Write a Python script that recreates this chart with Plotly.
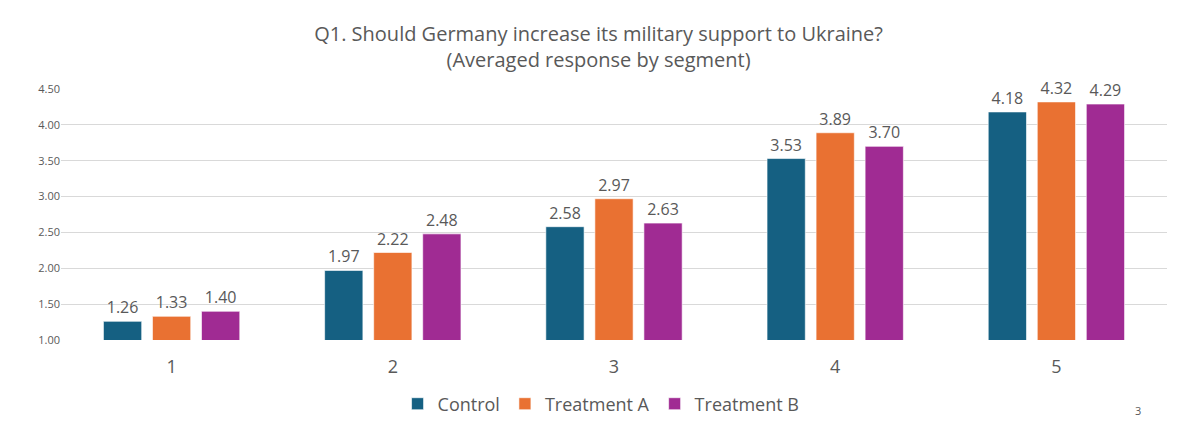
import plotly.graph_objects as go

# Data
segments = ["1", "2", "3", "4", "5"]
control = [1.26, 1.97, 2.58, 3.53, 4.18]
treatment_a = [1.33, 2.22, 2.97, 3.89, 4.32]
treatment_b = [1.40, 2.48, 2.63, 3.70, 4.29]
y_ticks = [1.00, 1.50, 2.00, 2.50, 3.00, 3.50, 4.00, 4.50]

series = [
    ("Control", control, "#156082"),
    ("Treatment A", treatment_a, "#E97132"),
    ("Treatment B", treatment_b, "#A02B93"),
]

fig = go.Figure()
for name, vals, color in series:
    fig.add_trace(go.Bar(
        x=segments,
        y=vals,
        name=name,
        marker=dict(color=color, line=dict(color="rgba(255,255,255,0.6)", width=1)),
        text=[f"{v:.2f}" for v in vals],
        textposition="outside",
        textfont=dict(size=16, color="#595959"),
        cliponaxis=False,
    ))

# page body adds an 8px offset, so margins are compensated
fig.update_layout(
    width=1204,
    height=444,
    font=dict(family="Open Sans", color="#595959"),
    title=dict(
        text="Q1. Should Germany increase its military support to Ukraine?<br>(Averaged response by segment)",
        x=0.4905,
        xanchor="center",
        y=0.926,
        yanchor="top",
        font=dict(size=20, color="#595959"),
    ),
    barmode="group",
    bargap=0.335,
    bargroupgap=0.22,
    plot_bgcolor="white",
    paper_bgcolor="white",
    margin=dict(l=53, r=45, t=81, b=112, autoexpand=False),
    showlegend=True,
    legend=dict(
        orientation="h",
        x=0.4883,
        xanchor="center",
        y=-0.255,
        yanchor="middle",
        font=dict(size=18, color="#595959"),
        traceorder="normal",
        itemwidth=30,
    ),
    xaxis=dict(
        showgrid=False,
        zeroline=False,
        showline=False,
        ticks="",
        automargin=False,
        ticklabelstandoff=14,
        tickfont=dict(size=18, color="#595959"),
    ),
    yaxis=dict(
        range=[1, 4.5],
        tickvals=y_ticks,
        ticktext=[f"{v:.2f}" for v in y_ticks],
        tickfont=dict(size=11, color="#595959"),
        showgrid=True,
        gridcolor="#D9D9D9",
        gridwidth=1,
        zeroline=False,
        showline=False,
        automargin=False,
    ),
    annotations=[
        dict(
            text="3",
            xref="paper",
            yref="paper",
            x=0.9783,
            y=-0.319,
            showarrow=False,
            font=dict(size=11, color="#595959"),
        )
    ],
)

fig.write_html("out.html")
